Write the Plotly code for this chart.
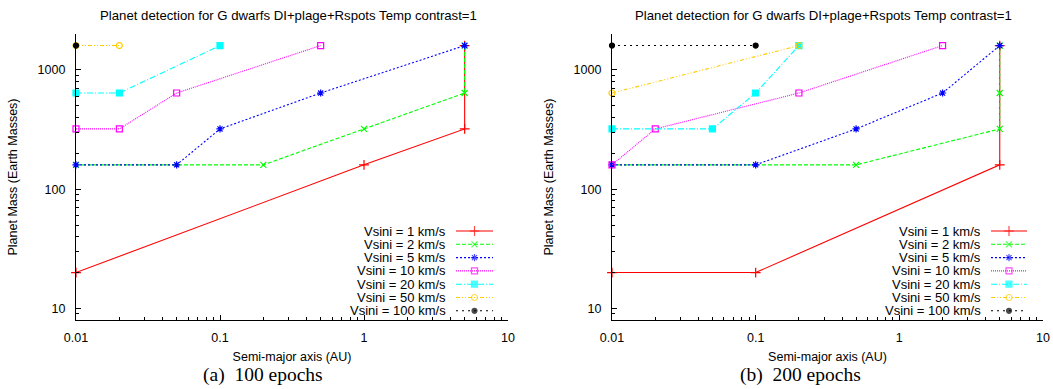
import plotly.graph_objects as go

W, H = 1053, 389

# ---------------- data ----------------
series_names = ["Vsini = 1 km/s", "Vsini = 2 km/s", "Vsini = 5 km/s", "Vsini = 10 km/s",
                "Vsini = 20 km/s", "Vsini = 50 km/s", "Vsini = 100 km/s"]

# (a) 100 epochs
a_x = [
    [0.01, 1, 5, 5],
    [0.01, 0.2, 1, 5, 5],
    [0.01, 0.05, 0.1, 0.5, 5],
    [0.01, 0.02, 0.05, 0.5],
    [0.01, 0.02, 0.1],
    [0.01, 0.02],
    [0.01],
]
a_y = [
    [20, 160, 320, 1600],
    [160, 160, 320, 640, 1600],
    [160, 160, 320, 640, 1600],
    [320, 320, 640, 1600],
    [640, 640, 1600],
    [1600, 1600],
    [1600],
]

# (b) 200 epochs
b_x = [
    [0.01, 0.1, 5, 5],
    [0.01, 0.5, 5, 5, 5],
    [0.01, 0.1, 0.5, 2, 5],
    [0.01, 0.02, 0.2, 2],
    [0.01, 0.05, 0.1, 0.2],
    [0.01, 0.2],
    [0.01, 0.1],
]
b_y = [
    [20, 20, 160, 1600],
    [160, 160, 320, 640, 1600],
    [160, 160, 320, 640, 1600],
    [160, 320, 640, 1600],
    [320, 320, 640, 1600],
    [640, 1600],
    [1600, 1600],
]

title_text = "Planet detection for G dwarfs DI+plage+Rspots Temp contrast=1"
xlabel = "Semi-major axis (AU)"
ylabel = "Planet Mass (Earth Masses)"
captions = ["(a)  100 epochs", "(b)  200 epochs"]
x_ticks = [0.01, 0.1, 1, 10]
x_ticklabels = ["0.01", "0.1", "1", "10"]
y_ticks = [10, 100, 1000]
y_ticklabels = ["10", "100", "1000"]

# ---------------- styles ----------------
colors = ["#ff0000", "#00ff00", "#0000ff", "#ff00ff", "#00ffff", "#ffcc00", "#000000"]
dashes = ["solid", "4px,2px", "2px,2px", "1px,1px", "6px,2px,1px,2px", "4px,2px,1px,2px,1px,2px", "2px,4px"]
symbols = ["cross-thin-open", "x-thin-open", "asterisk-open", "square-open", "square", "circle-open", "circle"]
msizes = [7, 6, 6, 6, 6, 6, 5]

FONT = "Liberation Sans, Arial, sans-serif"
XRANGE = [-2, 1]
YRANGE = [0.90309, 3.30103]

x_minor = [m * 10.0 ** e for e in range(-2, 1) for m in range(2, 10)]
y_minor = [m * 10.0 ** e for e in range(0, 4) for m in range(2, 10)]

fig = go.Figure()

# plot areas in pixels
panels = [(76, 508), (612, 1043)]
ytop, ybot = 34, 320
title_cx = [288, 823]
caption_cx = [263, 800]

def px(x):
    return x / W

def py(y):
    return 1 - y / H

for p, (xs_all, ys_all) in enumerate([(a_x, a_y), (b_x, b_y)]):
    xa = "x" if p == 0 else "x2"
    ya = "y" if p == 0 else "y2"
    for i in range(7):
        fig.add_trace(go.Scatter(
            x=xs_all[i], y=ys_all[i], mode="lines+markers", xaxis=xa, yaxis=ya,
            line=dict(color=colors[i], width=1.1, dash=dashes[i]),
            marker=dict(symbol=symbols[i], size=msizes[i], color=colors[i],
                        line=dict(color=colors[i], width=1.2)),
            showlegend=False, hoverinfo="skip", cliponaxis=False))

# custom legend (gnuplot style: text, then sample to its right) on a full-page pixel axis
legend_cfg = [(448, 456, 493), (983, 991, 1027)]
row0, drow = 231, 13.3
for p, (tx, lx0, lx1) in enumerate(legend_cfg):
    for i in range(7):
        yy = row0 + drow * i
        fig.add_trace(go.Scatter(
            x=[lx0, (lx0 + lx1) / 2, lx1], y=[yy, yy, yy], mode="lines+markers",
            xaxis="x3", yaxis="y3",
            line=dict(color=colors[i], width=1.1, dash=dashes[i]),
            marker=dict(symbol=symbols[i], size=[0, msizes[i], 0], color=colors[i],
                        line=dict(color=colors[i], width=1.2)),
            showlegend=False, hoverinfo="skip"))
        fig.add_annotation(x=px(tx), y=py(yy), xref="paper", yref="paper", text=series_names[i],
                           showarrow=False, xanchor="right", yanchor="middle",
                           font=dict(family=FONT, size=13, color="black"))

tick_common = dict(type="log", ticks="inside", ticklen=5, tickcolor="black",
                   showline=True, linecolor="black", linewidth=1.3, mirror=False,
                   showgrid=False, zeroline=False, automargin=False, fixedrange=True)

def xaxis_cfg(x0, x1, anchor, labels=True, overlay=None):
    d = dict(tick_common, range=XRANGE, domain=[x0 / W, x1 / W], anchor=anchor,
             tickvals=x_ticks, ticktext=x_ticklabels,
             minor=dict(tickmode="array", tickvals=x_minor, ticks="inside", ticklen=3,
                        tickcolor="black", showgrid=False))
    if labels:
        d.update(tickfont=dict(family=FONT, size=12.5, color="black"), ticklabelstandoff=6,
                 title=dict(text=xlabel, font=dict(family=FONT, size=12.5, color="black"), standoff=8))
    else:
        d.update(showticklabels=False, side="top", overlaying=overlay)
    return d

def yaxis_cfg(anchor, labels=True, overlay=None):
    d = dict(tick_common, range=YRANGE, domain=[1 - ybot / H, 1 - ytop / H], anchor=anchor,
             tickvals=y_ticks, ticktext=y_ticklabels,
             minor=dict(tickmode="array", tickvals=y_minor, ticks="inside", ticklen=3,
                        tickcolor="black", showgrid=False))
    if labels:
        d.update(tickfont=dict(family=FONT, size=12.5, color="black"), ticklabelstandoff=7,
                 title=dict(text=ylabel, font=dict(family=FONT, size=12.5, color="black"), standoff=17))
    else:
        d.update(showticklabels=False, side="right", overlaying=overlay)
    return d

fig.update_layout(
    width=W, height=H, margin=dict(l=0, r=0, t=0, b=0),
    paper_bgcolor="white", plot_bgcolor="rgba(0,0,0,0)",
    xaxis=xaxis_cfg(*panels[0], anchor="y"),
    yaxis=yaxis_cfg(anchor="x"),
    xaxis2=xaxis_cfg(*panels[1], anchor="y2"),
    yaxis2=yaxis_cfg(anchor="x2"),
    xaxis3=dict(range=[0, W], domain=[0, 1], visible=False, fixedrange=True, anchor="y3"),
    yaxis3=dict(range=[H, 0], domain=[0, 1], visible=False, fixedrange=True, anchor="x3"),
    # mirrored frames (top / right) with inside ticks
    xaxis4=xaxis_cfg(*panels[0], anchor="y", labels=False, overlay="x"),
    yaxis4=yaxis_cfg(anchor="x", labels=False, overlay="y"),
    xaxis5=xaxis_cfg(*panels[1], anchor="y2", labels=False, overlay="x2"),
    yaxis5=yaxis_cfg(anchor="x2", labels=False, overlay="y2"),
    showlegend=False,
)

for p in range(2):
    fig.add_annotation(x=px(title_cx[p]), y=py(15), xref="paper", yref="paper", text=title_text,
                       showarrow=False, xanchor="center", yanchor="middle",
                       font=dict(family=FONT, size=13.2, color="black"))
    fig.add_annotation(x=px(caption_cx[p]), y=py(375), xref="paper", yref="paper", text=captions[p],
                       showarrow=False, xanchor="center", yanchor="middle",
                       font=dict(family="Liberation Serif, Times New Roman, serif", size=19.5, color="black"))

fig.write_html("out.html")
